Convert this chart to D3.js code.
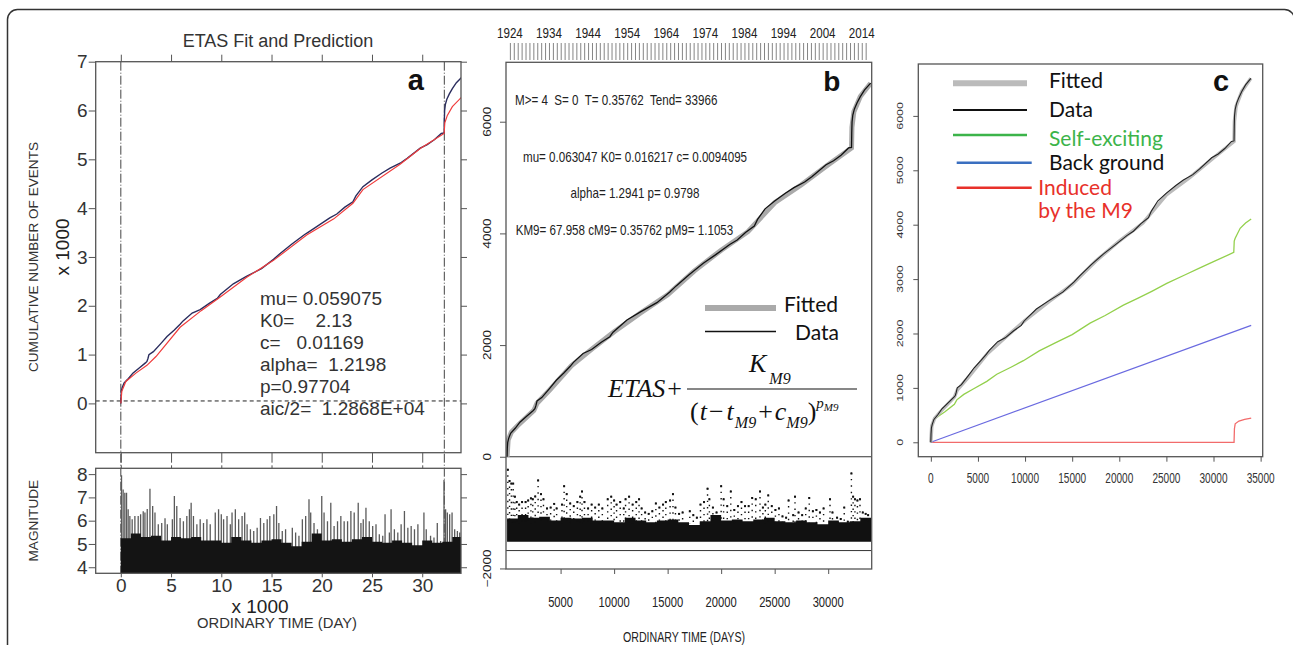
<!DOCTYPE html>
<html>
<head>
<meta charset="utf-8">
<script src="https://cdn.jsdelivr.net/npm/d3@7"></script>
<style>
  body { margin: 0; background: #fff; }
  svg text { white-space: pre; }
</style>
</head>
<body>
<svg id="fig" width="1293" height="645"></svg>
<script>
// ---- data ----
// cumulative number of events (days since start of catalogue)
const cumDays  = [0, 20, 60, 150, 330, 760, 1200, 1800, 2450, 2600, 2700, 2800, 3240, 4000, 4600, 5300, 5900, 6200, 7100, 7900, 8800, 9600, 9900, 11200, 12500, 14000, 15200, 15800, 17000, 18300, 18600, 19500, 20800, 21500, 22300, 23100, 23400, 24100, 25000, 26000, 26800, 27800, 28500, 29800, 30500, 31200, 31900, 32180, 32200, 32230, 32300, 32450, 32700, 33000, 33400, 33966];
const cumCount = [0, 150, 260, 330, 420, 510, 620, 720, 830, 860, 920, 1000, 1060, 1230, 1370, 1500, 1620, 1690, 1850, 1920, 2050, 2150, 2230, 2450, 2600, 2760, 2950, 3060, 3260, 3460, 3500, 3620, 3800, 3880, 4020, 4130, 4250, 4440, 4580, 4720, 4820, 4920, 5020, 5230, 5300, 5400, 5530, 5540, 5800, 6000, 6120, 6230, 6340, 6450, 6570, 6690];

// fitted cumulative (panels b, c)
const fitDays  = [0, 100, 400, 1000, 2500, 2800, 4000, 6000, 8000, 10000, 12500, 15000, 17500, 20000, 22500, 25000, 27500, 30000, 32180, 32220, 32400, 33000, 33966];
const fitCount = [0, 300, 440, 560, 830, 960, 1200, 1630, 1940, 2240, 2580, 2900, 3330, 3700, 4030, 4550, 4870, 5230, 5530, 5900, 6180, 6450, 6690];

// ETAS fit and prediction (panel a, red)
const predDays  = [0, 100, 500, 1500, 2600, 3500, 5900, 8000, 9900, 12500, 15200, 18500, 21200, 23100, 24100, 27800, 29800, 32180, 32250, 32500, 33000, 33900];
const predCount = [0, 250, 450, 620, 780, 960, 1560, 1900, 2180, 2580, 2930, 3450, 3780, 4100, 4380, 4900, 5220, 5530, 5750, 5900, 6080, 6270];

// components (panel c)
const selfDays  = [0, 100, 280, 800, 1500, 2500, 2757, 3500, 4500, 5940, 7000, 8500, 9822, 11500, 13364, 15000, 16900, 18500, 20437, 22000, 23500, 25035, 27000, 28500, 30000, 32150, 32200, 32300, 32827, 33400, 33996];
const selfCount = [0, 250, 410, 480, 560, 700, 780, 880, 980, 1120, 1250, 1380, 1500, 1680, 1840, 1980, 2190, 2330, 2520, 2650, 2780, 2920, 3080, 3200, 3320, 3490, 3700, 3750, 3934, 4030, 4105];
const bgDays    = [0, 34000];
const bgCount   = [0, 2150];
const indDays   = [0, 32180, 32220, 32300, 32700, 33300, 34000];
const indCount  = [0, 0, 250, 340, 390, 420, 445];

// larger events (magnitude spikes)
const spikeDays = [70, 230, 400, 570, 730, 900, 1130, 1400, 1730, 1970, 2230, 2400, 2630, 2900, 3170, 3400, 3730, 4070, 4400, 4630, 5130, 5330, 5570, 5900, 6230, 6570, 6830, 7000, 7230, 7570, 7900, 8230, 8570, 8900, 9400, 9730, 10000, 10230, 10570, 10900, 11070, 11400, 11730, 12070, 12330, 12570, 12900, 13230, 13570, 13900, 14230, 14570, 14830, 15230, 15500, 15730, 16070, 16400, 17070, 17400, 17730, 18070, 18400, 18730, 18900, 19230, 19570, 20000, 20230, 20570, 20900, 21230, 21570, 21900, 22230, 22570, 22900, 23230, 23630, 23900, 24130, 24400, 24730, 25070, 25400, 25730, 26070, 26300, 26730, 26900, 27230, 27570, 27900, 28230, 28570, 28900, 29230, 29570, 30170, 30400, 30830, 31170, 31500, 31830, 32170, 32330, 32500, 32730, 32970, 33230, 33500, 33730];
const spikeMag  = [7.95, 7.34, 7.2, 7.2, 6.49, 6.2, 6.06, 6.2, 6.2, 6.28, 6.4, 6.35, 6.5, 7.37, 6.63, 6.35, 5.85, 5.9, 6.1, 5.85, 6.06, 7.06, 6.63, 6.12, 5.98, 6.2, 6.49, 6.77, 6.2, 5.85, 6.06, 5.9, 6.06, 5.85, 6.35, 6.49, 6.28, 6.06, 6.2, 5.85, 6.35, 6.49, 6.06, 6.2, 6.35, 5.85, 5.63, 5.56, 5.7, 6.12, 5.9, 6.06, 6.2, 6.28, 6.63, 5.9, 5.56, 5.63, 5.7, 5.49, 5.35, 6.06, 6.2, 6.92, 6.35, 5.9, 5.63, 7.06, 6.35, 5.98, 6.77, 5.77, 5.98, 6.2, 5.98, 5.98, 6.42, 6.35, 6.77, 5.9, 6.06, 6.56, 5.98, 5.77, 5.85, 5.42, 5.35, 6.28, 5.49, 6.49, 5.63, 5.49, 5.85, 6.42, 5.7, 5.77, 5.63, 5.85, 6.35, 5.63, 5.35, 5.28, 5.9, 5.13, 7.75, 6.49, 6.35, 6.28, 6.35, 5.63, 5.56, 5.49];
// top of the dense band of small events
const bandDays = [0, 1000, 2000, 3000, 4000, 5000, 6000, 7000, 8000, 9000, 10000, 11000, 12000, 13000, 14000, 15000, 16000, 17000, 18000, 19000, 20000, 21000, 22000, 23000, 24000, 25000, 26000, 27000, 28000, 29000, 30000, 31000, 32000, 33000, 34000];
const bandTop  = [5.25, 5.45, 5.3, 5.35, 5.15, 5.3, 5.25, 5.3, 5.15, 5.15, 5.05, 5.3, 5.15, 5.05, 5.15, 5.2, 5.05, 4.9, 5.1, 5.45, 5.15, 5.2, 5.1, 5.2, 5.3, 5.1, 5.05, 5.15, 5.05, 4.95, 5.15, 5.05, 5.1, 5.3, 5.25];

// ticks / labels
const aYTicks   = [0, 1000, 2000, 3000, 4000, 5000, 6000, 7000];
const aXTicks   = [0, 5000, 10000, 15000, 20000, 25000, 30000];
const magTicks  = [4, 5, 6, 7, 8];
const markDays  = [0, 32200];   // dashed verticals in panel a
const thresholdA = 50;          // dashed horizontal in panel a
const bYTicks   = [-2000, 0, 2000, 4000, 6000];
const bXTicks   = [5000, 10000, 15000, 20000, 25000, 30000];
const yearLabels = [1924, 1934, 1944, 1954, 1964, 1974, 1984, 1994, 2004, 2014];
const yearOrigin = 1923.28;
const bBaseLine = -1680;
const cYTicks   = [0, 1000, 2000, 3000, 4000, 5000, 6000];
const cXTicks   = [0, 5000, 10000, 15000, 20000, 25000, 30000, 35000];

const paramsA = ["mu= 0.059075", "K0=    2.13", "c=   0.01169", "alpha=  1.2198", "p=0.97704", "aic/2=  1.2868E+04"];

const font = '"Liberation Sans", Arial, sans-serif';
const legFont = 'Lato, "Open Sans", sans-serif';
const serif = '"Liberation Serif", "Times New Roman", serif';
const svg = d3.select("#fig").attr("font-family", font);

// outer frame
svg.append("rect").attr("x", 7.5).attr("y", 9.5).attr("width", 1287).attr("height", 700)
  .attr("rx", 10).attr("fill", "none").attr("stroke", "#333").attr("stroke-width", 1.5);

function drawAxis(g, axis, opt) {
  g.call(axis);
  g.select(".domain").remove();
  g.attr("font-family", font).attr("font-size", opt.fs || 14);
  g.selectAll(".tick line").attr("stroke", opt.stroke || "#555").attr("stroke-width", opt.sw || 1);
  g.selectAll(".tick text").attr("fill", opt.color || "#333");
  return g;
}

// text squeezed horizontally (the figure was narrowed)
function narrow(x, y, txt, size, sx, anchor, rot, fill) {
  return svg.append("text")
    .attr("transform", `translate(${x},${y}) scale(${sx},1) rotate(${rot || 0})`)
    .attr("text-anchor", anchor || "middle")
    .attr("dominant-baseline", "central")
    .attr("font-size", size)
    .attr("fill", fill || "#222")
    .text(txt);
}

function box(x0, y0, x1, y1, color) {
  svg.append("rect").attr("x", x0).attr("y", y0).attr("width", x1 - x0).attr("height", y1 - y0)
    .attr("fill", "none").attr("stroke", color || "#555").attr("stroke-width", 1.3);
}

function clip(id, x0, y0, x1, y1) {
  svg.append("clipPath").attr("id", id).append("rect")
    .attr("x", x0).attr("y", y0).attr("width", x1 - x0).attr("height", y1 - y0);
}

// ================= panel a =================
const xA = d3.scaleLinear().domain([-2500, 33860]).range([95.7, 461]);
const yA = d3.scaleLinear().domain([-1010, 7000]).range([452.7, 61.7]);
const yM = d3.scaleLinear().domain([3.74, 8.25]).range([573.3, 468.3]);

clip("clipA", 95.7, 61.7, 461, 452.7);
clip("clipM", 95.7, 468.3, 461, 573.3);

svg.append("text").attr("x", 278).attr("y", 41).attr("text-anchor", "middle")
  .attr("dominant-baseline", "central").attr("font-size", 18).attr("fill", "#333")
  .text("ETAS Fit and Prediction");

// dashed verticals through both parts
svg.selectAll(".markA").data(markDays).join("line")
  .attr("x1", d => xA(d)).attr("x2", d => xA(d)).attr("y1", 61.7).attr("y2", 573.3)
  .attr("stroke", "#444").attr("stroke-width", 1).attr("stroke-dasharray", "9,2,1,2");

svg.append("line").attr("x1", 95.7).attr("x2", 461).attr("y1", yA(thresholdA)).attr("y2", yA(thresholdA))
  .attr("stroke", "#222").attr("stroke-width", 1).attr("stroke-dasharray", "4,3");

const lineA = d3.line().x(d => xA(d[0])).y(d => yA(d[1]));
const gA = svg.append("g").attr("clip-path", "url(#clipA)");
gA.append("path").attr("d", lineA(d3.zip(cumDays, cumCount)))
  .attr("fill", "none").attr("stroke", "#2b2d5e").attr("stroke-width", 1.4);
gA.append("path").attr("d", lineA(d3.zip(predDays, predCount)))
  .attr("fill", "none").attr("stroke", "#f03c3c").attr("stroke-width", 1.2);

box(95.7, 61.7, 461, 452.7);
drawAxis(svg.append("g").attr("transform", "translate(95.7,0)"),
  d3.axisLeft(yA).tickValues(aYTicks).tickFormat(d => d / 1000).tickSize(7).tickPadding(1), { fs: 19 });
drawAxis(svg.append("g").attr("transform", "translate(461,0)"),
  d3.axisRight(yA).tickValues(aYTicks).tickFormat("").tickSize(6), {});
drawAxis(svg.append("g").attr("transform", "translate(0,61.7)"),
  d3.axisTop(xA).tickValues(aXTicks).tickFormat("").tickSize(7), {});
drawAxis(svg.append("g").attr("transform", "translate(0,452.7)"),
  d3.axisBottom(xA).tickValues(aXTicks).tickFormat("").tickSize(10), {});

svg.selectAll(".parA").data(paramsA).join("text")
  .attr("x", 260).attr("y", (d, i) => 298 + i * 22)
  .attr("dominant-baseline", "central").attr("font-size", 19).attr("fill", "#333")
  .text(d => d);

svg.append("text").attr("x", 415.7).attr("y", 80).attr("text-anchor", "middle")
  .attr("dominant-baseline", "central").attr("font-size", 29).attr("font-weight", "bold")
  .attr("fill", "#111").text("a");

svg.append("text").attr("transform", "translate(33,257) rotate(-90)").attr("text-anchor", "middle")
  .attr("dominant-baseline", "central").attr("font-size", 13.6).attr("fill", "#333")
  .text("CUMULATIVE NUMBER OF EVENTS");
svg.append("text").attr("transform", "translate(62,247) rotate(-90)").attr("text-anchor", "middle")
  .attr("dominant-baseline", "central").attr("font-size", 19).attr("fill", "#222")
  .text("x 1000");

// magnitude part
const gM = svg.append("g").attr("clip-path", "url(#clipM)");
gM.selectAll("line").data(d3.zip(spikeDays, spikeMag)).join("line")
  .attr("x1", d => xA(d[0])).attr("x2", d => xA(d[0]))
  .attr("y1", yM(3.74)).attr("y2", d => yM(d[1]))
  .attr("stroke", "#5a5a5a").attr("stroke-width", 1.3);
gM.append("path")
  .attr("d", d3.area().x(d => xA(d[0])).y0(yM(3.74)).y1(d => yM(d[1])).curve(d3.curveStepAfter)(d3.zip(bandDays, bandTop)))
  .attr("fill", "#141414");

box(95.7, 468.3, 461, 573.3);
drawAxis(svg.append("g").attr("transform", "translate(95.7,0)"),
  d3.axisLeft(yM).tickValues(magTicks).tickFormat(d3.format("d")).tickSize(7).tickPadding(1), { fs: 19 });
drawAxis(svg.append("g").attr("transform", "translate(461,0)"),
  d3.axisRight(yM).tickValues(magTicks).tickFormat("").tickSize(6), {});
drawAxis(svg.append("g").attr("transform", "translate(0,468.3)"),
  d3.axisTop(xA).tickValues(aXTicks).tickFormat("").tickSize(3), {});
drawAxis(svg.append("g").attr("transform", "translate(0,573.3)"),
  d3.axisBottom(xA).tickValues(aXTicks).tickFormat(d => d / 1000).tickSize(4).tickPadding(1), { fs: 19 });

svg.append("text").attr("x", 260).attr("y", 606).attr("text-anchor", "middle")
  .attr("dominant-baseline", "central").attr("font-size", 19).attr("fill", "#222").text("x 1000");
svg.append("text").attr("x", 277).attr("y", 622.5).attr("text-anchor", "middle")
  .attr("dominant-baseline", "central").attr("font-size", 14.8).attr("fill", "#333").text("ORDINARY TIME (DAY)");
svg.append("text").attr("transform", "translate(33,520.7) rotate(-90)").attr("text-anchor", "middle")
  .attr("dominant-baseline", "central").attr("font-size", 13.6).attr("fill", "#333").text("MAGNITUDE");

// ================= panel b =================
const xB = d3.scaleLinear().domain([-100, 34065]).range([506, 871.7]);
const yB = d3.scaleLinear().domain([-2010, 7064]).range([569, 62.3]);
const bMag = d3.scaleLinear().domain([4, 8]).range([-1520, -200]);
const yearDay = yr => (yr - yearOrigin) * 365.25;

clip("clipB", 506, 62.3, 871.7, 569);
const gB = svg.append("g").attr("clip-path", "url(#clipB)");

// zero line and base line
[0, bBaseLine].forEach(v => {
  gB.append("line").attr("x1", 506).attr("x2", 871.7).attr("y1", yB(v)).attr("y2", yB(v))
    .attr("stroke", "#333").attr("stroke-width", 1);
});

// magnitudes as points: dense band plus stippled columns up to each larger event
gB.append("path")
  .attr("d", d3.area().x(d => xB(d[0])).y0(yB(bMag(4))).y1(d => yB(bMag(d[1]))).curve(d3.curveStepAfter)(d3.zip(bandDays, bandTop)))
  .attr("fill", "#111");
gB.selectAll(".colB").data(d3.zip(spikeDays, spikeMag)).join("line")
  .attr("x1", d => xB(d[0])).attr("x2", d => xB(d[0]))
  .attr("y1", d => yB(bMag(d[1]))).attr("y2", yB(bMag(5.0)))
  .attr("stroke", "#111").attr("stroke-width", 1.4).attr("stroke-dasharray", "1.4,5");
gB.selectAll(".dotB").data(d3.zip(spikeDays, spikeMag)).join("rect")
  .attr("x", d => xB(d[0]) - 1).attr("y", d => yB(bMag(d[1]))).attr("width", 2).attr("height", 2)
  .attr("fill", "#111");

const lineB = d3.line().x(d => xB(d[0])).y(d => yB(d[1]));
gB.append("path").attr("d", lineB(d3.zip(fitDays, fitCount)))
  .attr("fill", "none").attr("stroke", "#aaa").attr("stroke-width", 5);
gB.append("path").attr("d", lineB(d3.zip(cumDays, cumCount)))
  .attr("fill", "none").attr("stroke", "#111").attr("stroke-width", 1.3);

box(506, 62.3, 871.7, 569);
drawAxis(svg.append("g").attr("transform", "translate(506,0)"),
  d3.axisLeft(yB).tickValues(bYTicks).tickFormat("").tickSize(6), {});
bYTicks.forEach(v => narrow(487, yB(v), v < 0 ? "\u2212" + Math.abs(v) : String(v), 13.5, 0.8, "middle", -90));
drawAxis(svg.append("g").attr("transform", "translate(0,569)"),
  d3.axisBottom(xB).tickValues(bXTicks).tickFormat("").tickSize(5), {});
bXTicks.forEach(v => narrow(xB(v), 603, String(v), 14, 0.8));

// calendar years on top
drawAxis(svg.append("g").attr("transform", "translate(0,60)"),
  d3.axisTop(xB).tickValues(d3.range(1924, 2016).map(yearDay)).tickFormat("").tickSize(17), { sw: 0.8, stroke: "#666" });
yearLabels.forEach(y => narrow(xB(yearDay(y)), 33, String(y), 14.5, 0.8));

narrow(515, 100, "M>= 4  S= 0  T= 0.35762  Tend= 33966", 14.5, 0.8, "start");
narrow(635, 157, "mu= 0.063047 K0= 0.016217 c= 0.0094095", 14.5, 0.8);
narrow(635, 193, "alpha= 1.2941 p= 0.9798", 14.5, 0.8);
narrow(515.7, 230, "KM9= 67.958 cM9= 0.35762 pM9= 1.1053", 14.5, 0.8, "start");
narrow(684, 637, "ORDINARY TIME (DAYS)", 14, 0.76);

svg.append("text").attr("x", 831.7).attr("y", 81).attr("text-anchor", "middle")
  .attr("dominant-baseline", "central").attr("font-size", 28).attr("font-weight", "bold")
  .attr("fill", "#111").text("b");

// legend b
svg.append("line").attr("x1", 705).attr("x2", 776).attr("y1", 308).attr("y2", 308)
  .attr("stroke", "#aaa").attr("stroke-width", 6);
svg.append("line").attr("x1", 705).attr("x2", 776).attr("y1", 331.5).attr("y2", 331.5)
  .attr("stroke", "#111").attr("stroke-width", 1.5);
svg.append("text").attr("x", 784).attr("y", 303).attr("dominant-baseline", "central")
  .attr("font-family", legFont).attr("font-size", 21).attr("fill", "#111").text("Fitted");
svg.append("text").attr("x", 795).attr("y", 331.5).attr("dominant-baseline", "central")
  .attr("font-family", legFont).attr("font-size", 21).attr("fill", "#111").text("Data");

// formula
const fEtas = svg.append("text").attr("x", 608).attr("y", 397).attr("font-family", serif).attr("font-size", 26).attr("fill", "#111");
fEtas.append("tspan").attr("font-style", "italic").text("ETAS");
fEtas.append("tspan").attr("dx", 2).text("+");
svg.append("line").attr("x1", 687).attr("x2", 857).attr("y1", 389).attr("y2", 389)
  .attr("stroke", "#111").attr("stroke-width", 1.2);
const fNum = svg.append("text").attr("x", 749).attr("y", 372).attr("font-family", serif).attr("font-size", 26).attr("fill", "#111");
fNum.append("tspan").attr("font-style", "italic").text("K");
fNum.append("tspan").attr("font-style", "italic").attr("font-size", 16).attr("dx", 3).attr("dy", 12).text("M9");
const fDen = svg.append("text").attr("x", 690).attr("y", 420).attr("font-family", serif).attr("font-size", 26).attr("fill", "#111");
fDen.append("tspan").text("(");
fDen.append("tspan").attr("font-style", "italic").attr("dx", 1).text("t");
fDen.append("tspan").attr("dx", 2).text("\u2212");
fDen.append("tspan").attr("font-style", "italic").attr("dx", 3).text("t");
fDen.append("tspan").attr("font-style", "italic").attr("font-size", 16).attr("dx", 1).attr("dy", 8).text("M9");
fDen.append("tspan").attr("dx", 2).attr("dy", -8).text("+");
fDen.append("tspan").attr("font-style", "italic").attr("dx", 2).text("c");
fDen.append("tspan").attr("font-style", "italic").attr("font-size", 16).attr("dy", 8).text("M9");
fDen.append("tspan").attr("dy", -8).text(")");
fDen.append("tspan").attr("font-style", "italic").attr("font-size", 15).attr("dy", -12).text("p");
fDen.append("tspan").attr("font-style", "italic").attr("font-size", 11).attr("dy", 3).text("M9");

// ================= panel c =================
const xC = d3.scaleLinear().domain([-1330, 35220]).range([918.3, 1262.7]);
const yC = d3.scaleLinear().domain([-265, 6954]).range([456.7, 64]);
clip("clipC", 918.3, 64, 1262.7, 456.7);
const gC = svg.append("g").attr("clip-path", "url(#clipC)");
const lineC = d3.line().x(d => xC(d[0])).y(d => yC(d[1]));

gC.append("path").attr("d", lineC(d3.zip(indDays, indCount)))
  .attr("fill", "none").attr("stroke", "#f26b6b").attr("stroke-width", 1.3);
gC.append("path").attr("d", lineC(d3.zip(bgDays, bgCount)))
  .attr("fill", "none").attr("stroke", "#6a6ae0").attr("stroke-width", 1.2);
gC.append("path").attr("d", lineC(d3.zip(selfDays, selfCount)))
  .attr("fill", "none").attr("stroke", "#93d04c").attr("stroke-width", 1.3);
gC.append("path").attr("d", lineC(d3.zip(fitDays, fitCount)))
  .attr("fill", "none").attr("stroke", "#bbb").attr("stroke-width", 3.5);
gC.append("path").attr("d", lineC(d3.zip(cumDays, cumCount)))
  .attr("fill", "none").attr("stroke", "#222").attr("stroke-width", 1.1);

box(918.3, 64, 1262.7, 456.7, "#555");
drawAxis(svg.append("g").attr("transform", "translate(918.3,0)"),
  d3.axisLeft(yC).tickValues(cYTicks).tickFormat("").tickSize(5), {});
cYTicks.forEach(v => narrow(900, yC(v), String(v), 12.5, 0.75, "middle", -90, "#333"));
drawAxis(svg.append("g").attr("transform", "translate(0,456.7)"),
  d3.axisBottom(xC).tickValues(cXTicks).tickFormat("").tickSize(5), {});
cXTicks.forEach(v => narrow(xC(v), 478.3, String(v), 14, 0.72, "middle", 0, "#333"));

svg.append("text").attr("x", 1221).attr("y", 80.7).attr("text-anchor", "middle")
  .attr("dominant-baseline", "central").attr("font-size", 29).attr("font-weight", "bold")
  .attr("fill", "#111").text("c");

// legend c
const legC = [
  { label: ["Fitted"], color: "#bbb", text: "#111", w: 6, x1: 953, x2: 1027, y: 83.3, tx: 1049, ty: 79.3 },
  { label: ["Data"], color: "#111", text: "#111", w: 2, x1: 953, x2: 1027, y: 110, tx: 1049, ty: 108.3 },
  { label: ["Self-exciting"], color: "#3cb44a", text: "#3cb44a", w: 2.5, x1: 953, x2: 1027, y: 135, tx: 1049, ty: 137 },
  { label: ["Back ground"], color: "#3a6fc0", text: "#111", w: 2.5, x1: 956.7, x2: 1031.7, y: 162.7, tx: 1049, ty: 161 },
  { label: ["Induced", "by the M9"], color: "#e8312a", text: "#e8312a", w: 2.5, x1: 956.7, x2: 1031.7, y: 187.7, tx: 1038.3, ty: 186.5 }
];
legC.forEach(d => {
  svg.append("line").attr("x1", d.x1).attr("x2", d.x2).attr("y1", d.y).attr("y2", d.y)
    .attr("stroke", d.color).attr("stroke-width", d.w);
  d.label.forEach((t, i) => {
    svg.append("text").attr("x", d.tx).attr("y", d.ty + i * 22.5).attr("dominant-baseline", "central")
      .attr("font-family", legFont).attr("font-size", 21).attr("fill", d.text).text(t);
  });
});
</script>
</body>
</html>
